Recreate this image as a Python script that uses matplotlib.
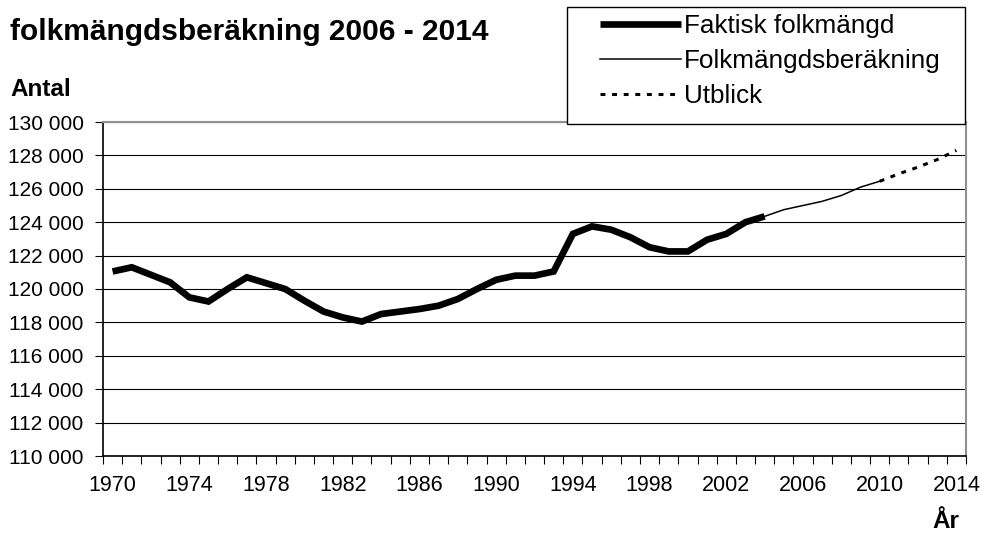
import matplotlib
matplotlib.use("Agg")
import matplotlib.pyplot as plt
from matplotlib.patches import Rectangle
from matplotlib.ticker import FuncFormatter

plt.rcParams['font.family'] = ['Liberation Sans', 'DejaVu Sans']

# Faktisk folkmängd 1970-2004
ar_fakt = [1970, 1971, 1972, 1973, 1974, 1975, 1976, 1977, 1978, 1979,
           1980, 1981, 1982, 1983, 1984, 1985, 1986, 1987, 1988, 1989,
           1990, 1991, 1992, 1993, 1994, 1995, 1996, 1997, 1998, 1999,
           2000, 2001, 2002, 2003, 2004]
fakt = [121050, 121300, 120850, 120400, 119500, 119250, 120000, 120700, 120350, 120000,
        119300, 118650, 118300, 118050, 118500, 118650, 118800, 119000, 119400, 120000,
        120550, 120800, 120800, 121050, 123300, 123750, 123550, 123100, 122500, 122250,
        122250, 122950, 123300, 124000, 124350]

# Folkmängdsberäkning 2004-2010
ar_ber = [2004, 2005, 2006, 2007, 2008, 2009, 2010]
ber = [124350, 124750, 125000, 125250, 125600, 126100, 126450]

# Utblick 2010-2014
ar_utb = [2010, 2011, 2012, 2013, 2014]
utb = [126450, 126900, 127300, 127750, 128300]

fig = plt.figure(figsize=(9.82, 5.33), dpi=100)
ax = fig.add_axes([103 / 982, 1 - 456 / 533, (966 - 103) / 982, (456 - 122) / 533])

ax.plot(ar_fakt, fakt, color='black', lw=4.8, solid_capstyle='butt', solid_joinstyle='miter',
        label='Faktisk folkmängd', zorder=3)
ax.plot(ar_ber, ber, color='black', lw=1.1, label='Folkmängdsberäkning', zorder=3)
ax.plot(ar_utb, utb, color='black', lw=2.2, linestyle=(0, (1.6, 2.2)), label='Utblick', zorder=3)

ax.set_xlim(1969.5, 2014.5)
ax.set_ylim(110000, 130000)
ax.set_xticks(range(1970, 2015, 4))
ax.set_xticks([y + 0.5 for y in range(1969, 2015)], minor=True)
ax.tick_params(axis='x', which='major', length=0, pad=14, labelsize=15.5)
ax.tick_params(axis='x', which='minor', length=6, width=0.8, direction='out')
ax.set_yticks(range(110000, 130001, 2000))
ax.yaxis.set_major_formatter(FuncFormatter(lambda v, p: f"{int(v):,}".replace(",", " ")))
ax.tick_params(axis='y', length=6, width=0.8, pad=8, labelsize=15)
ax.yaxis.grid(True, color='black', lw=0.8)
ax.set_axisbelow(True)

for s in ('top', 'right'):
    ax.spines[s].set_color('#909090')
    ax.spines[s].set_linewidth(1.5)
ax.spines['left'].set_linewidth(1.2)
ax.spines['bottom'].set_linewidth(1.2)

fig.text(10 / 982, 1 - 40 / 533, 'folkmängdsberäkning 2006 - 2014', fontsize=21.5,
         fontweight='bold', ha='left', va='baseline')
fig.text(10 / 982, 1 - 96 / 533, 'Antal', fontsize=17.5, fontweight='bold', ha='left', va='baseline')
fig.text(946 / 982, 0, 'År', fontsize=17.5, fontweight='bold', ha='center', va='bottom')

# legend box
fig.patches.append(Rectangle((567 / 982, 1 - 124 / 533), (965 - 567) / 982, (124 - 7) / 533,
                             transform=fig.transFigure, facecolor='white', edgecolor='black',
                             lw=1.0, zorder=5))
leg = fig.legend(loc='upper left', bbox_to_anchor=(600 / 982, 1 - 14 / 533), frameon=False,
                 fontsize=18.8, handlelength=3.1, handletextpad=0.12, labelspacing=0.42,
                 borderpad=0, borderaxespad=0)
leg.set_zorder(6)

fig.savefig('out.png', dpi=100)
